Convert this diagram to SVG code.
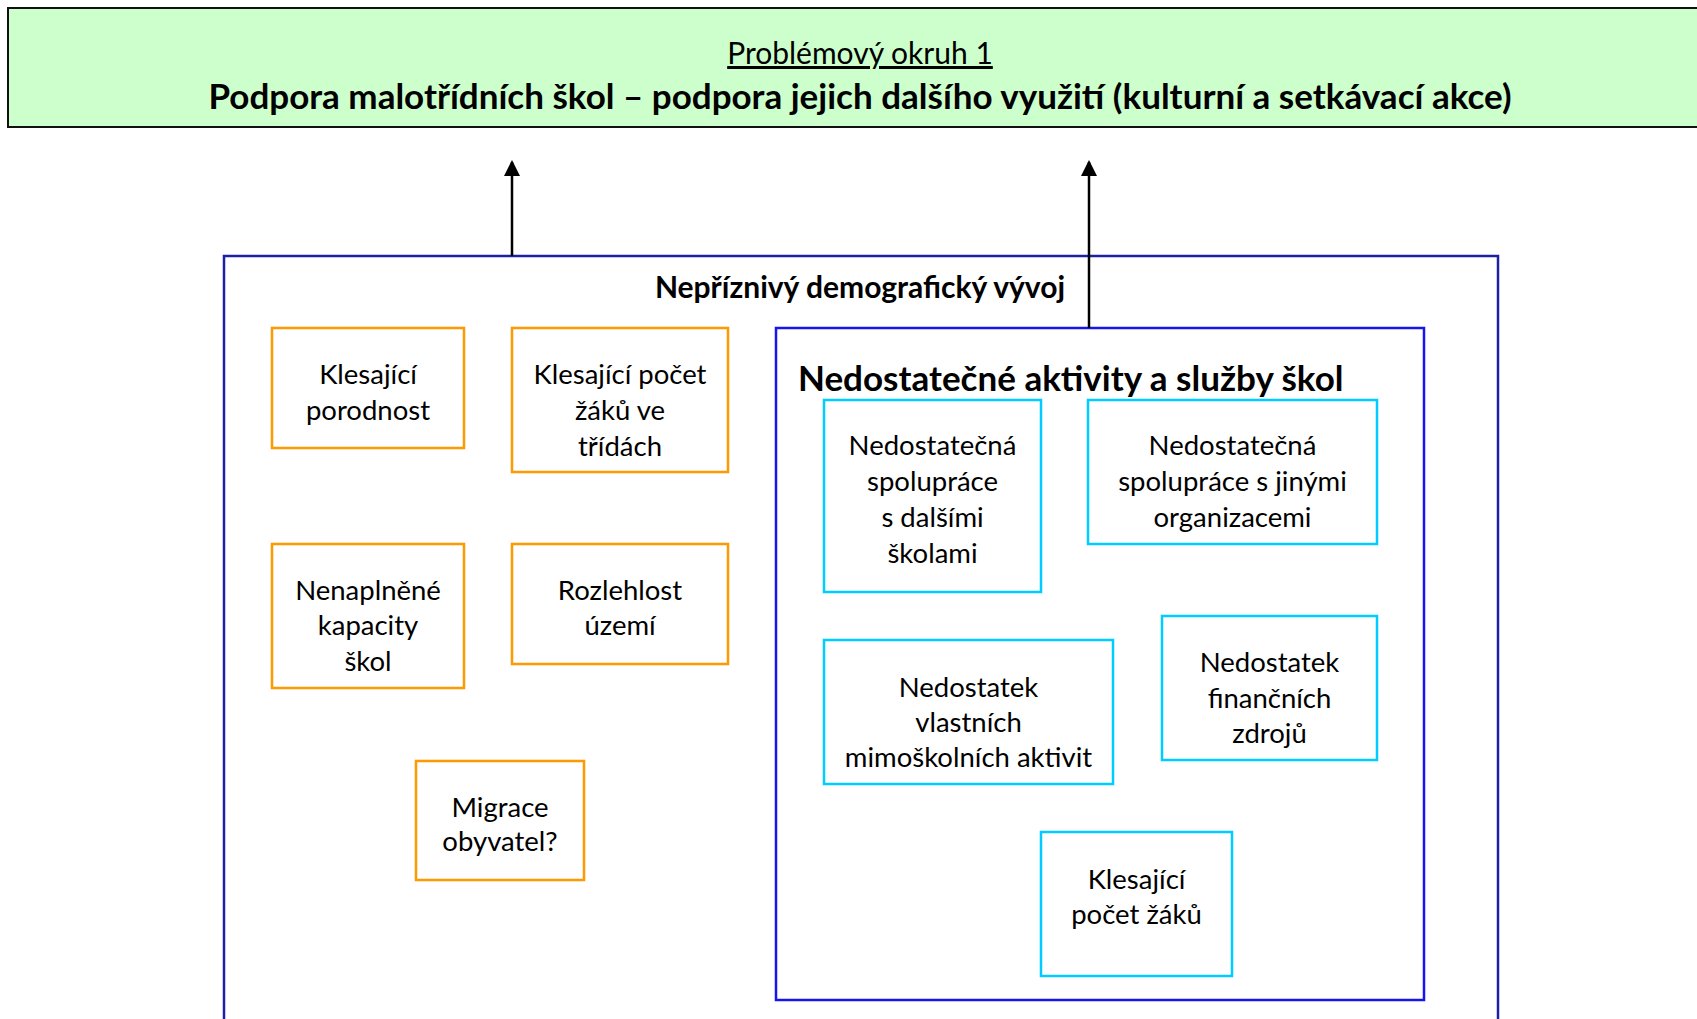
<svg xmlns="http://www.w3.org/2000/svg" width="1697" height="1019" viewBox="0 0 1697 1019">
<style>
.t{font-family:Lato,"Liberation Sans",sans-serif;fill:#000}
.box{font-size:27.5px;text-anchor:middle}
.org{fill:#fff;stroke:#FF9900;stroke-width:2.5}
.cyn{fill:#fff;stroke:#00CCFF;stroke-width:2.5}
.conn{stroke:#000;stroke-width:2.5;fill:none}
</style>
<defs>
<marker id="ah" markerWidth="16" markerHeight="16" refX="14" refY="8" orient="auto" markerUnits="userSpaceOnUse">
<path d="M0,0 L16,8 L0,16 Z" fill="#000"/>
</marker>
</defs>
<g id="title">
<rect x="8" y="8" width="1700" height="119" fill="#CCFFCC" stroke="#111" stroke-width="2"/>
<text class="t" x="860" y="64" font-size="30" text-anchor="middle" text-decoration="underline">Problémový okruh 1</text>
<text class="t" x="860" y="109" font-size="35" font-weight="bold" text-anchor="middle">Podpora malotřídních škol – podpora jejich dalšího využití (kulturní a setkávací akce)</text>
</g>
<g id="demografie">
<rect x="224" y="256" width="1274" height="800" fill="#fff" stroke="#1F1FA5" stroke-width="2.5"/>
<text class="t" x="860" y="298" font-size="30" font-weight="bold" text-anchor="middle">Nepříznivý demografický vývoj</text>
</g>
<g id="n1"><rect class="org" x="272" y="328" width="192" height="120"/>
<text class="t box" x="368" y="384">Klesající</text><text class="t box" x="368" y="420">porodnost</text></g>
<g id="n2"><rect class="org" x="512" y="328" width="216" height="144"/>
<text class="t box" x="620" y="384">Klesající počet</text><text class="t box" x="620" y="420">žáků ve</text><text class="t box" x="620" y="456">třídách</text></g>
<g id="n3"><rect class="org" x="272" y="544" width="192" height="144"/>
<text class="t box" x="368" y="600">Nenaplněné</text><text class="t box" x="368" y="635">kapacity</text><text class="t box" x="368" y="671">škol</text></g>
<g id="n4"><rect class="org" x="512" y="544" width="216" height="120"/>
<text class="t box" x="620" y="600">Rozlehlost</text><text class="t box" x="620" y="635">území</text></g>
<g id="n5"><rect class="org" x="416" y="761" width="168" height="119"/>
<text class="t box" x="500" y="817">Migrace</text><text class="t box" x="500" y="851">obyvatel?</text></g>
<g id="aktivity">
<rect x="776" y="328" width="648" height="672" fill="#fff" stroke="#1515F0" stroke-width="2.5"/>
<text class="t" x="798" y="391" font-size="35" font-weight="bold">Nedostatečné aktivity a služby škol</text>
</g>
<g id="a1"><rect class="cyn" x="824" y="400" width="217" height="192"/>
<text class="t box" x="932.5" y="455">Nedostatečná</text><text class="t box" x="932.5" y="491">spolupráce</text><text class="t box" x="932.5" y="527">s dalšími</text><text class="t box" x="932.5" y="563">školami</text></g>
<g id="a2"><rect class="cyn" x="1088" y="400" width="289" height="144"/>
<text class="t box" x="1232.5" y="455">Nedostatečná</text><text class="t box" x="1232.5" y="491">spolupráce s jinými</text><text class="t box" x="1232.5" y="527">organizacemi</text></g>
<g id="a3"><rect class="cyn" x="824" y="640" width="289" height="144"/>
<text class="t box" x="968.5" y="697">Nedostatek</text><text class="t box" x="968.5" y="732">vlastních</text><text class="t box" x="968.5" y="767">mimoškolních aktivit</text></g>
<g id="a4"><rect class="cyn" x="1162" y="616" width="215" height="144"/>
<text class="t box" x="1269.5" y="672">Nedostatek</text><text class="t box" x="1269.5" y="708">finančních</text><text class="t box" x="1269.5" y="743">zdrojů</text></g>
<g id="a5"><rect class="cyn" x="1041" y="832" width="191" height="144"/>
<text class="t box" x="1136.5" y="889">Klesající</text><text class="t box" x="1136.5" y="924">počet žáků</text></g>
<g id="connectors">
<line class="conn" x1="512" y1="256" x2="512" y2="162" marker-end="url(#ah)"/>
<line class="conn" x1="1089" y1="328" x2="1089" y2="162" marker-end="url(#ah)"/>
</g>
</svg>
